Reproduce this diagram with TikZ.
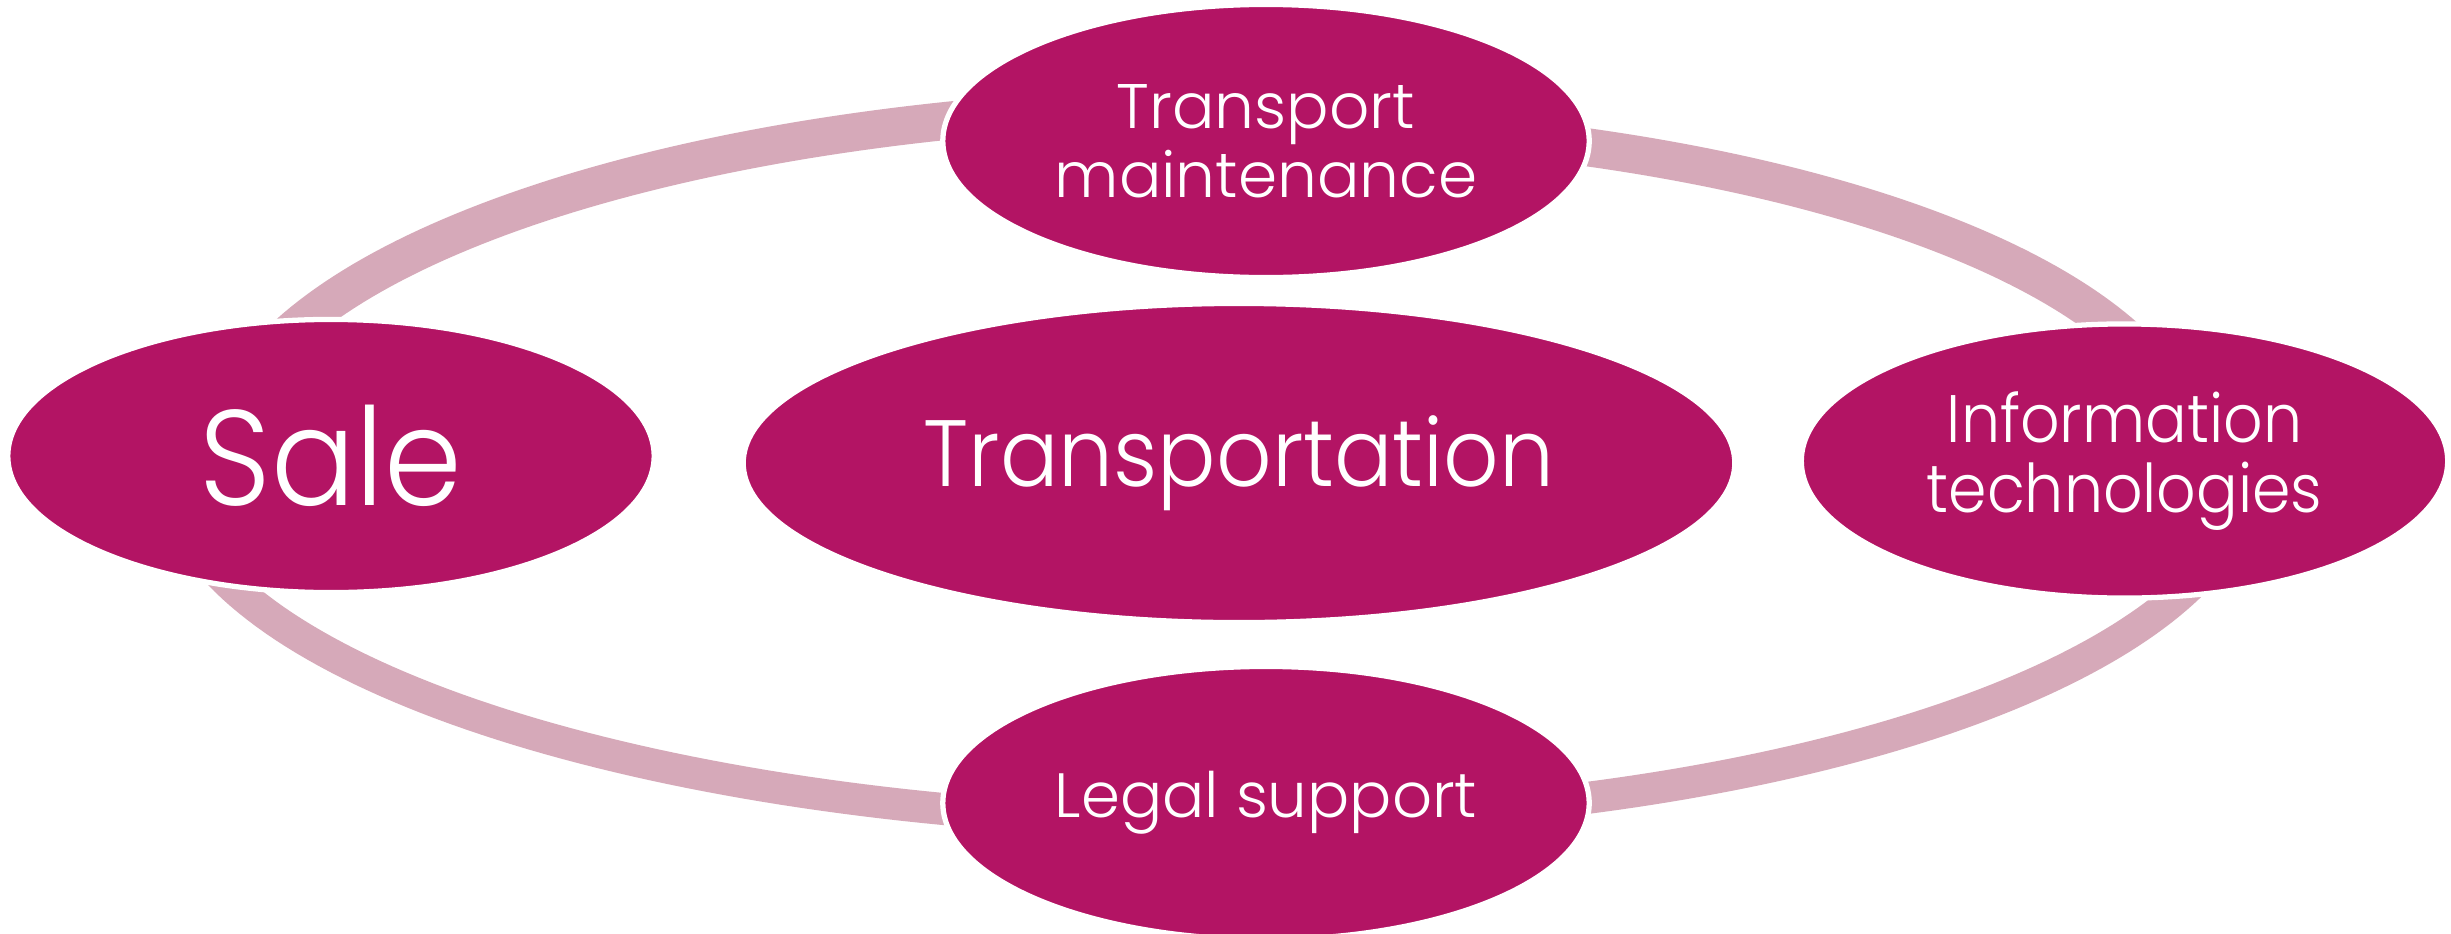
\documentclass[tikz,border=0pt]{standalone}
\usepackage{fontspec}
\setmainfont{Poppins}[UprightFont=* Light]
\newfontfamily\condfont{Poppins}[UprightFont=* Light, FakeStretch=0.92]
\usetikzlibrary{shapes.geometric,backgrounds}
\definecolor{mag}{RGB}{179,20,100}
\definecolor{band}{RGB}{214,169,185}
\begin{document}
\begin{tikzpicture}[x=0.01cm,y=-0.01cm,
  bubble/.style={ellipse, fill=mag, draw=white, line width=1.5pt, text=white, align=center, inner sep=0pt},
  ring/.style={draw=band, line width=0.38cm, line cap=butt, line join=round},
  ringthin/.style={ring, line width=0.32cm}]
\useasboundingbox (0,0) rectangle (2451,933);
\node[bubble, minimum width=6.46cm, minimum height=2.73cm, font=\fontsize{17.9}{19.7}\selectfont] (tm) at (1266,141) {Transport\\maintenance};
\node[bubble, minimum width=6.46cm, minimum height=2.73cm, font=\condfont\fontsize{38.6}{40}\selectfont] (sale) at (331,456) {Sale};
\node[bubble, minimum width=9.91cm, minimum height=3.19cm, font=\condfont\fontsize{26.8}{28}\selectfont] (trans) at (1239,463) {Transportation};
\node[bubble, minimum width=6.46cm, minimum height=2.74cm, font=\condfont\fontsize{19.1}{19.7}\selectfont] (it) at (2124.5,461) {Information\\technologies};
\node[bubble, minimum width=6.46cm, minimum height=2.73cm, font=\fontsize{17.8}{19.7}\selectfont] (legal) at (1266,803) {Legal support};
\begin{pgfonlayer}{background}
\fill[white] (0,0) rectangle (2451,933);
\draw[ring] (sale.center) -- plot[domain=-163:-100, samples=60] ({1235+1016*cos(\x)}, {464+357.9*sin(\x)}) -- (tm.center);
\draw[ring] (tm.center) -- plot[domain=-74:-18, samples=60] ({1235+959*cos(\x)}, {464+340.6*sin(\x)}) -- (it.center);
\draw[ringthin] (it.center) -- plot[domain=15:75, samples=60] ({1235+1016*cos(\x)}, {464+356*sin(\x)}) -- (legal.center);
\draw[ringthin] (legal.center) -- plot[domain=100:168, samples=60] ({1235+1066.7*cos(\x)}, {464+358.7*sin(\x)}) -- (sale.center);
\end{pgfonlayer}
\end{tikzpicture}
\end{document}
